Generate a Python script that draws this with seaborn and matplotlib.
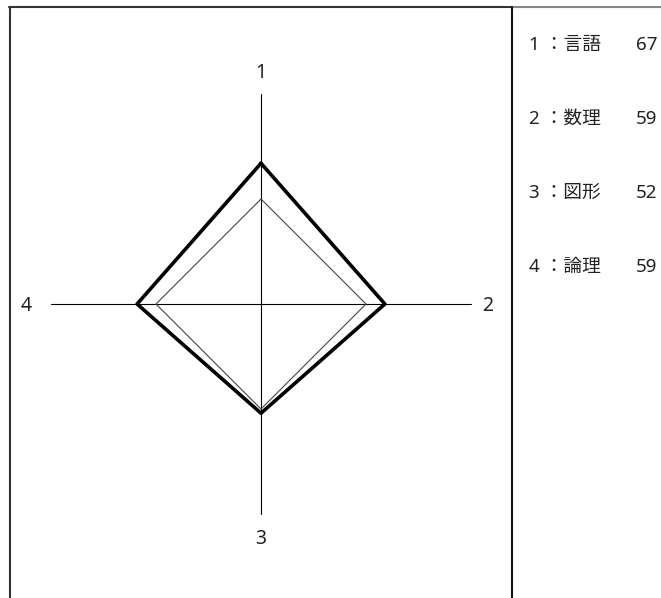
import numpy as np
import matplotlib
matplotlib.use("Agg")
import matplotlib.pyplot as plt
from matplotlib.lines import Line2D
import seaborn as sns

# Data
axis_ids = ['1', '2', '3', '4']
subjects = ['言語', '数理', '図形', '論理']
scores = [67, 59, 52, 59]
baseline = [50, 50, 50, 50]
axis_max = 100

sns.set_style("white")
plt.rcParams['font.family'] = ['Noto Sans', 'Noto Sans CJK JP', 'DejaVu Sans']

W, H = 661, 598
cx, cy = 261, 304       # radar centre in pixels
scale = 2.1             # pixels per score unit

fig = plt.figure(figsize=(W / 100, H / 100), dpi=100)
ax = fig.add_axes([0, 0, 1, 1])
ax.set_xlim(-cx / scale, (W - cx) / scale)
ax.set_ylim(-(H - cy) / scale, cy / scale)
ax.axis('off')

# axis directions: 1 up, 2 right, 3 down, 4 left
angles = np.deg2rad(90 - 90 * np.arange(len(axis_ids)))


def polygon(values):
    v = np.array(values + values[:1], dtype=float)
    a = np.append(angles, angles[0])
    return v * np.cos(a), v * np.sin(a)


# spokes and labels
for lab, a in zip(axis_ids, angles):
    sns.lineplot(x=[0, axis_max * np.cos(a)], y=[0, axis_max * np.sin(a)],
                 sort=False, estimator=None, color='black', lw=0.8, ax=ax)
    lx = 110 * np.cos(a) - 2 * abs(np.cos(a))
    ly = 111 * np.sin(a) - 1
    ax.text(lx, ly, lab, ha='center', va='center', fontsize=14, color='#222222')

bx, by = polygon(baseline)
sns.lineplot(x=bx, y=by, sort=False, estimator=None, color='#444444', lw=0.8, ax=ax)
sx, sy = polygon(scores)
sns.lineplot(x=sx, y=sy, sort=False, estimator=None, color='black', lw=2.6, ax=ax)

# frame borders (pixel coordinates)
def px(x, y):
    return x / W, 1 - y / H

for (x0, y0), (x1, y1), c in [((9, 7), (512, 7), '#333333'),
                              ((512, 7), (661, 7), '#888888'),
                              ((10, 7), (10, 598), '#333333'),
                              ((512, 7), (512, 598), '#111111')]:
    (fx0, fy0), (fx1, fy1) = px(x0, y0), px(x1, y1)
    fig.add_artist(Line2D([fx0, fx1], [fy0, fy1], color=c, lw=1.5))

# side list
row_y = [45, 119, 193, 267]
for lab, name, sc, y in zip(axis_ids, subjects, scores, row_y):
    fx, fy = px(529, y)
    fig.text(fx, fy, f'{lab} ：{name}', ha='left', va='center', fontsize=13.5, color='#222222')
    fx, fy = px(636, y)
    fig.text(fx, fy, str(sc), ha='left', va='center', fontsize=13.5, color='#222222')

fig.savefig('out.png', dpi=100)
